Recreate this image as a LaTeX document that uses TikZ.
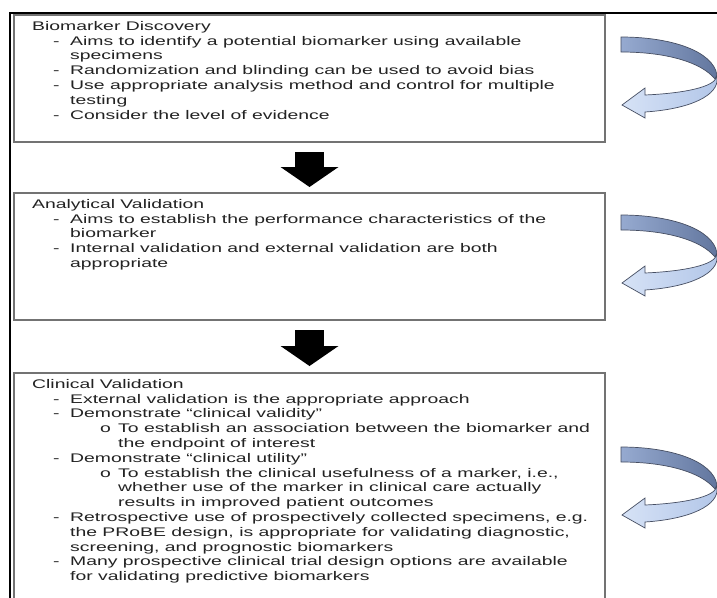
\documentclass[tikz,border=0pt]{standalone}
\usepackage{fontspec}
\setmainfont[FakeStretch=1.55]{Liberation Sans}
\usepackage{tikz}
\usetikzlibrary{arrows.meta, positioning, calc}
\definecolor{frameGray}{RGB}{115,115,115}
\definecolor{ribbonDark}{RGB}{98,118,158}
\definecolor{ribbonMid}{RGB}{150,170,208}
\definecolor{ribbonLight}{RGB}{178,198,232}
\definecolor{ribbonPale}{RGB}{214,226,246}
\definecolor{ribbonEdge}{RGB}{70,78,98}
\definecolor{textGray}{RGB}{35,35,35}

% bullet lines with hanging indent
\newcommand{\dashline}[1]{\hspace*{21pt}\makebox[17pt][l]{-}#1}
\newcommand{\contline}[1]{\hspace*{38pt}#1}
\newcommand{\subline}[1]{\hspace*{68pt}\makebox[18pt][l]{o}#1}
\newcommand{\subcont}[1]{\hspace*{86pt}#1}

\begin{document}
\frenchspacing
\begin{tikzpicture}[x=1pt, y=-1pt,
  panel/.style={rectangle, draw=frameGray, line width=1.1pt, fill=white,
                minimum width=591pt, inner sep=0pt, outer sep=0pt, anchor=north west},
  body/.style={align=left, inner sep=0pt, text=textGray,
               font=\fontsize{12.5}{14.8}\selectfont},
  blockarrow/.style={line width=29pt, -{Triangle[length=20pt, width=58pt, line width=0pt]}},
  loopback/.pic={
    \draw[ribbonEdge, line width=0.7pt, left color=ribbonPale, right color=ribbonLight]
      (95,38) .. controls (98,48) and (70,56) .. (24,58) -- (24,51) -- (1,68)
      -- (24,81) -- (24,75) .. controls (70,72) and (98,58) .. (96,41) -- cycle;
    \draw[ribbonEdge, line width=0.7pt, left color=ribbonMid, right color=ribbonDark]
      (0,0) .. controls (50,0) and (92,14) .. (96,38) -- (94,42)
      .. controls (80,25) and (45,15) .. (0,15) -- cycle;
  },
]
  \useasboundingbox (0,0) rectangle (717,597);
  \clip (0,0) rectangle (717,597);
  \fill[white] (0,0) rectangle (717,597);
  \draw[line width=2.6pt] (10,610) -- (10,13) -- (730,13);

  \node[panel, minimum height=127pt] (disc) at (14,15) {};
  \node[panel, minimum height=127pt, below=51pt of disc] (anal) {};
  \node[panel, minimum height=240pt, below=53pt of anal] (clin) {};

  \node[body, below right=4pt and 18pt of disc.north west] (disctext) {%
    \rule{0pt}{11pt}Biomarker Discovery\\
    \dashline{Aims to identify a potential biomarker using available}\\
    \contline{specimens}\\
    \dashline{Randomization and blinding can be used to avoid bias}\\
    \dashline{Use appropriate analysis method and control for multiple}\\
    \contline{testing}\\
    \dashline{Consider the level of evidence}};

  \node[body, below right=4pt and 18pt of anal.north west] (analtext) {%
    \rule{0pt}{11pt}Analytical Validation\\
    \dashline{Aims to establish the performance characteristics of the}\\
    \contline{biomarker}\\
    \dashline{Internal validation and external validation are both}\\
    \contline{appropriate}};

  \node[body, below right=4pt and 18pt of clin.north west] (clintext) {%
    \rule{0pt}{11pt}Clinical Validation\\
    \dashline{External validation is the appropriate approach}\\
    \dashline{Demonstrate “clinical validity”}\\
    \subline{To establish an association between the biomarker and}\\
    \subcont{the endpoint of interest}\\
    \dashline{Demonstrate “clinical utility”}\\
    \subline{To establish the clinical usefulness of a marker, i.e.,}\\
    \subcont{whether use of the marker in clinical care actually}\\
    \subcont{results in improved patient outcomes}\\
    \dashline{Retrospective use of prospectively collected specimens, e.g.}\\
    \contline{the PRoBE design, is appropriate for validating diagnostic,}\\
    \contline{screening, and prognostic biomarkers}\\
    \dashline{Many prospective clinical trial design options are available}\\
    \contline{for validating predictive biomarkers}};

  \draw[blockarrow] ($(disc.south)+(0,10)$) -- ($(anal.north)+(0,-6)$);
  \draw[blockarrow] ($(anal.south)+(0,10)$) -- ($(clin.north)+(0,-7)$);

  % loop arrows beside each stage
  \coordinate[below right=22pt and 16pt of disc.north east] (discloop);
  \coordinate[below right=22pt and 16pt of anal.north east] (analloop);
  \coordinate[below right=74pt and 16pt of clin.north east] (clinloop);
  \pic at (discloop) {loopback};
  \pic at (analloop) {loopback};
  \pic at (clinloop) {loopback};
\end{tikzpicture}
\end{document}
